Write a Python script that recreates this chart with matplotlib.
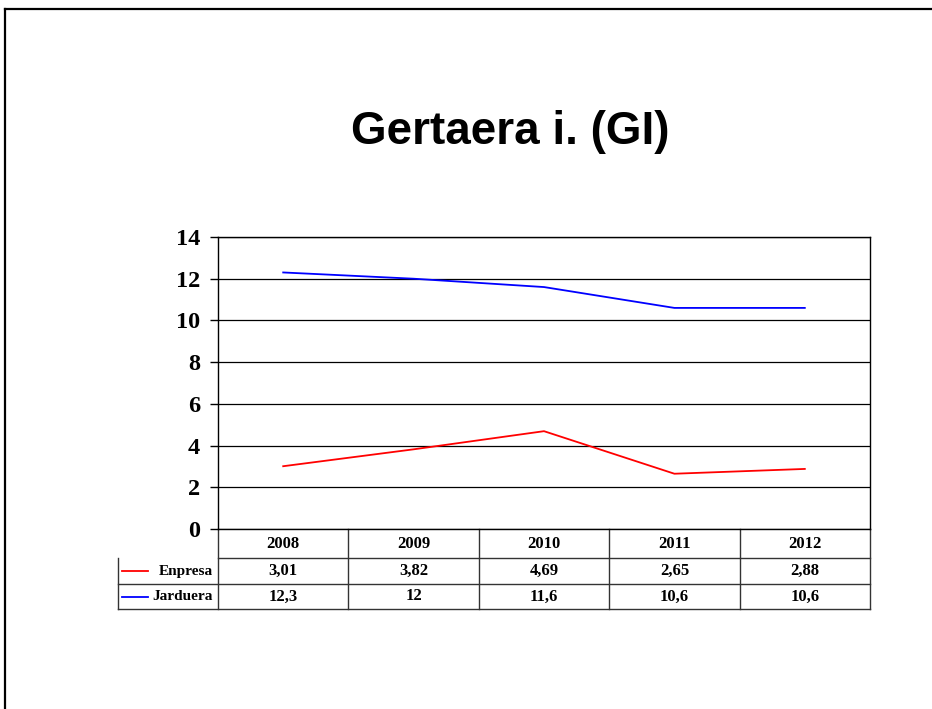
import matplotlib.pyplot as plt
from matplotlib.lines import Line2D
import matplotlib.transforms as mtransforms

anos = ["2008", "2009", "2010", "2011", "2012"]
enpresa = [3.01, 3.82, 4.69, 2.65, 2.88]
jarduera = [12.3, 12, 11.6, 10.6, 10.6]
y_ticks = [0, 2, 4, 6, 8, 10, 12, 14]


def formatu(v):
    # koma hamartarrekin
    return f"{v:g}".replace(".", ",")


def marraztu():
    fig = plt.figure(figsize=(9.32, 7.09), dpi=100)
    W, H = 932, 709

    # diapositibaren ertzak
    fig.add_artist(Line2D([5 / W, 1], [1 - 9 / H, 1 - 9 / H], color="black", lw=1.6))
    fig.add_artist(Line2D([5 / W, 5 / W], [0, 1 - 9 / H], color="black", lw=1.6))

    fig.text(510 / W, 1 - 132 / H, "Gertaera i. (GI)", ha="center", va="center",
             fontsize=33, fontweight="bold", family="Liberation Sans")

    ax = fig.add_axes([218 / W, 1 - 529 / H, 652 / W, 292 / H])
    x = list(range(len(anos)))
    ax.plot(x, enpresa, color="red", lw=1.3)
    ax.plot(x, jarduera, color="blue", lw=1.3)
    ax.set_xlim(-0.5, len(anos) - 0.5)
    ax.set_ylim(0, 14)
    ax.set_yticks(y_ticks)
    ax.set_yticklabels([str(t) for t in y_ticks], family="Liberation Serif",
                       fontweight="bold", fontsize=17.5)
    ax.set_xticks([])
    ax.tick_params(axis="y", length=6, width=1, pad=7)
    ax.yaxis.grid(True, color="black", lw=0.9)
    ax.set_axisbelow(True)
    for s in ax.spines.values():
        s.set_color("black")
        s.set_linewidth(1)

    # datu taula grafikoaren azpian
    tr = mtransforms.blended_transform_factory(ax.transData, ax.transAxes)
    h0, h1, h2 = -29 / 292, -55 / 292, -80 / 292
    left = -0.5 - 100 / 130.4
    right = len(anos) - 0.5
    lk = dict(color="#333333", lw=1, transform=tr, clip_on=False)
    ax.add_line(Line2D([-0.5, right], [h0, h0], **lk))
    ax.add_line(Line2D([left, right], [h1, h1], **lk))
    ax.add_line(Line2D([left, right], [h2, h2], **lk))
    ax.add_line(Line2D([left, left], [h0, h2], **lk))
    for i in range(len(anos) + 1):
        ax.add_line(Line2D([i - 0.5, i - 0.5], [0, h2], **lk))

    tk = dict(transform=tr, ha="center", va="center", family="Liberation Serif",
              fontweight="bold", fontsize=12, clip_on=False)
    for i, a in enumerate(anos):
        ax.text(i, (0 + h0) / 2, a, **tk)
        ax.text(i, (h0 + h1) / 2, formatu(enpresa[i]), **tk)
        ax.text(i, (h1 + h2) / 2, formatu(jarduera[i]), **tk)

    for izena, kolorea, (ya, yb) in [("Enpresa", "red", (h0, h1)), ("Jarduera", "blue", (h1, h2))]:
        ym = (ya + yb) / 2
        ax.add_line(Line2D([left + 0.03, left + 0.23], [ym, ym], color=kolorea, lw=1.3,
                           transform=tr, clip_on=False))
        ax.text(-0.54, ym, izena, transform=tr, ha="right", va="center",
                family="Liberation Serif", fontweight="bold", fontsize=11, clip_on=False)

    fig.savefig("out.png", dpi=100)


if __name__ == "__main__":
    marraztu()
